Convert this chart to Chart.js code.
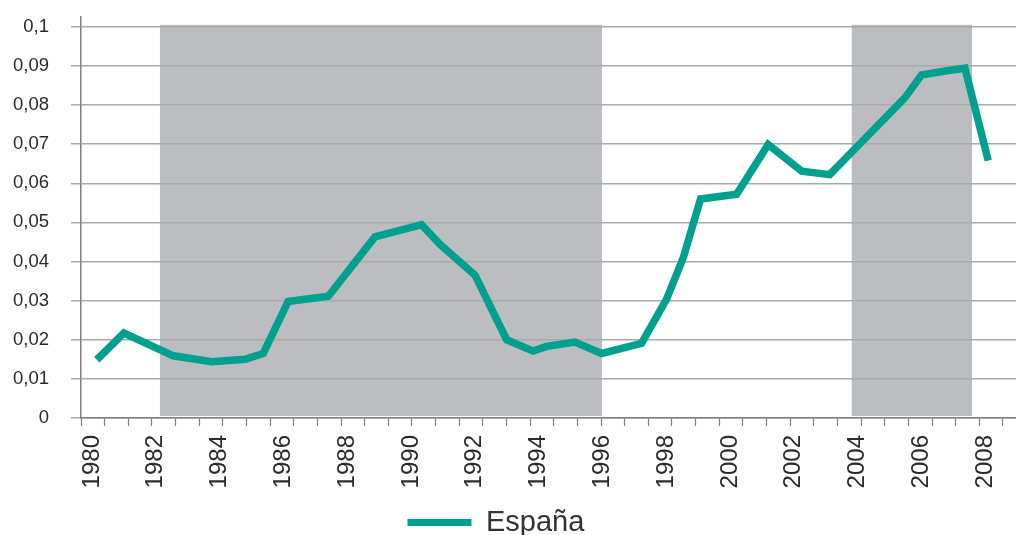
<!DOCTYPE html>
<html>
<head>
<meta charset="utf-8">
<script src="https://cdn.jsdelivr.net/npm/chart.js@4.4.1/dist/chart.umd.min.js"></script>
<style>
  html, body { margin: 0; padding: 0; background: #fff; }
  #wrap { width: 1016px; height: 535px; }
</style>
</head>
<body>
<div id="wrap"><canvas id="chart" width="1016" height="535"></canvas></div>
<script>
// Data
const seriesName = "España";
const years = [1980.15, 1981.0, 1982.55, 1983.75, 1984.8, 1985.37, 1986.15, 1987.41, 1988.87, 1990.33,
  1990.91, 1992.01, 1993.0, 1993.83, 1994.25, 1995.14, 1995.98, 1997.23, 1998.01, 1998.54,
  1999.08, 2000.21, 2001.2, 2002.25, 2003.13, 2005.49, 2006.01, 2006.9, 2007.37, 2008.1];
const values = [0.0149, 0.0217, 0.0159, 0.0144, 0.0150, 0.0165, 0.0298, 0.0311, 0.0463, 0.0494,
  0.0444, 0.0365, 0.0200, 0.0171, 0.0183, 0.0194, 0.0165, 0.0191, 0.0303, 0.0410,
  0.0560, 0.0572, 0.0699, 0.0631, 0.0622, 0.0819, 0.0877, 0.0889, 0.0894, 0.0658];

// Shaded periods
const shadeStart = [1982.13, 2003.82];
const shadeEnd = [1995.99, 2007.59];

// Tick labels
const yearLabels = [1980, 1982, 1984, 1986, 1988, 1990, 1992, 1994, 1996, 1998, 2000, 2002, 2004, 2006, 2008];
const yTicks = [0, 0.01, 0.02, 0.03, 0.04, 0.05, 0.06, 0.07, 0.08, 0.09, 0.1];

// Axis range
const xMin = 1979.655, xMax = 2008.97;
const tickDivisions = 39; // small tick marks along the x axis

const teal = "#00a08e";
const shadeColor = "#bcbdc1";
const gridColor = "#a9a9a9";
const axisColor = "#7f7f7f";

// Shaded bands, painted before the grid so the grid stays on top
const shadePlugin = {
  id: "shade",
  beforeDraw(chart) {
    const { ctx, scales: { x, y } } = chart;
    ctx.save();
    ctx.fillStyle = shadeColor;
    shadeStart.forEach((s, i) => {
      const left = x.getPixelForValue(s);
      const right = x.getPixelForValue(shadeEnd[i]);
      const top = y.getPixelForValue(0.1005);
      const bottom = y.getPixelForValue(0.0005);
      ctx.fillRect(left, top, right - left, bottom - top);
    });
    ctx.restore();
  }
};

const formatY = v => String(+v.toFixed(2)).replace(".", ",");

new Chart(document.getElementById("chart"), {
  type: "line",
  data: {
    datasets: [{
      label: seriesName,
      data: years.map((yr, i) => ({ x: yr, y: values[i] })),
      borderColor: teal,
      backgroundColor: teal,
      borderWidth: 7.5,
      tension: 0,
      pointRadius: 0,
      borderJoinStyle: "miter",
      borderCapStyle: "butt"
    }]
  },
  options: {
    responsive: false,
    animation: false,
    layout: { autoPadding: false, padding: { left: 0, right: 0, top: 17, bottom: -12 } },
    plugins: {
      tooltip: { enabled: false },
      legend: {
        position: "bottom",
        labels: {
          boxWidth: 64,
          boxHeight: 7,
          padding: 8,
          color: "#333",
          font: { family: "Liberation Sans", size: 29 },
          generateLabels(chart) {
            const items = Chart.defaults.plugins.legend.labels.generateLabels(chart);
            items.forEach(it => {
              it.lineWidth = 0;
              it.strokeStyle = teal;
              it.text = it.text + "\u00a0\u00a0\u00a0";
            });
            return items;
          }
        }
      }
    },
    scales: {
      x: {
        type: "linear",
        min: xMin,
        max: xMax,
        afterBuildTicks(scale) {
          const marks = [];
          const step = (2008.56 - xMin) / tickDivisions;
          for (let k = 0; k <= tickDivisions; k++) marks.push({ value: xMin + k * step, mark: true });
          const labels = yearLabels.map(v => ({ value: v, mark: false }));
          scale.ticks = marks.concat(labels).sort((a, b) => a.value - b.value);
        },
        afterFit(scale) {
          scale.height = 82;
          scale.paddingLeft = 0;
          scale.paddingRight = 0;
        },
        grid: {
          drawOnChartArea: false,
          drawTicks: true,
          tickLength: 8,
          tickWidth: 1.2,
          tickColor: ctx => (ctx.tick && ctx.tick.mark ? axisColor : "rgba(0,0,0,0)")
        },
        border: { color: axisColor, width: 1.5 },
        ticks: {
          autoSkip: false,
          minRotation: 90,
          maxRotation: 90,
          padding: 9,
          color: "#2a2a2a",
          font: { family: "Liberation Sans", size: 24 },
          callback: (v, i, ticks) => (ticks[i].mark ? "" : String(Math.round(v)))
        }
      },
      y: {
        min: 0,
        max: 0.1025,
        afterBuildTicks(scale) {
          scale.ticks = yTicks.map(v => ({ value: v }));
        },
        afterFit(scale) {
          scale.width = 81;
          scale.paddingTop = 0;
          scale.paddingBottom = 0;
        },
        grid: {
          color: gridColor,
          lineWidth: 1.5,
          tickLength: 10,
          tickColor: gridColor
        },
        border: { color: axisColor, width: 1.5 },
        ticks: {
          padding: 22,
          color: "#2a2a2a",
          font: { family: "Liberation Sans", size: 18.5 },
          callback: v => formatY(v)
        }
      }
    }
  },
  plugins: [shadePlugin]
});
</script>
</body>
</html>
